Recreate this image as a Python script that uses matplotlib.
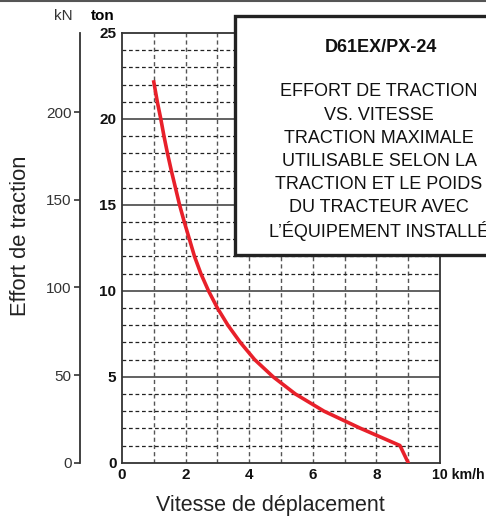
"""Drawbar pull vs speed chart, D61EX/PX-24."""
import matplotlib
matplotlib.use("Agg")
import matplotlib.pyplot as plt
from matplotlib.patches import Rectangle
from matplotlib.lines import Line2D

plt.rcParams["font.family"] = ["Liberation Sans", "DejaVu Sans"]

# curve: speed (km/h) vs pull (ton)
speed = [1.0, 1.11, 1.22, 1.32, 1.43, 1.55, 1.68, 1.81, 1.96, 2.12, 2.28, 2.48,
         2.72, 3.0, 3.33, 3.72, 4.17, 4.75, 5.45, 6.35, 7.5, 8.74, 9.0]
pull_ton = [22.15, 21.0, 20.0, 19.0, 18.0, 17.0, 16.0, 15.0, 14.0, 13.0, 12.0, 11.0,
            10.0, 9.0, 8.0, 7.0, 6.0, 5.0, 4.0, 3.0, 2.0, 1.0, 0.0]

ton_ticks = [0, 5, 10, 15, 20, 25]
kn_ticks = [0, 50, 100, 150, 200]
speed_ticks = [0, 2, 4, 6, 8]
KN_PER_TON = 9.81

box_lines = ["EFFORT DE TRACTION", "VS. VITESSE", "TRACTION MAXIMALE",
             "UTILISABLE SELON LA", "TRACTION ET LE POIDS",
             "DU TRACTEUR AVEC", "L\u2019ÉQUIPEMENT INSTALLÉ"]

W, H = 486, 517
fig = plt.figure(figsize=(W / 100, H / 100), dpi=100)
fig.patch.set_facecolor("white")


def fx(px):
    return px / W


def fy(py):
    return 1 - py / H


left, right, top, bottom = 122, 440, 33, 462.7
ax = fig.add_axes([fx(left), fy(bottom), fx(right - left), (bottom - top) / H])
ax.set_xlim(0, 10)
ax.set_ylim(0, 25)

# grid
for v in range(1, 10):
    ax.axvline(v, color="#555555", lw=1.0, ls=(0, (3, 2.2)), zorder=1)
for t in range(1, 25):
    if t % 5 == 0:
        ax.axhline(t, color="#555555", lw=1.3, zorder=1)
    else:
        ax.axhline(t, color="#222222", lw=0.9, ls=(0, (3, 2.2)), zorder=1)

ax.plot(speed, pull_ton, color="#E8202A", lw=2.6, zorder=3, solid_joinstyle="round")

for s in ax.spines.values():
    s.set_color("#333333")
    s.set_linewidth(1.3)

tick_fs = 11
ax.set_yticks(ton_ticks)
ax.set_yticklabels([str(t) for t in ton_ticks], fontweight="bold", fontsize=tick_fs)
ax.set_xticks(speed_ticks)
ax.set_xticklabels([str(s) for s in speed_ticks], fontweight="bold", fontsize=tick_fs)
ax.tick_params(axis="both", length=0, pad=4, colors="#111111")
ax.text(9.74, -0.72, "10 km/h", ha="left", va="center", fontweight="bold", fontsize=10.2,
        color="#111111", clip_on=False)
fig.text(fx(103), fy(16), "ton", ha="center", va="center", fontweight="bold", fontsize=tick_fs)

# kN axis
ax_kn = fig.add_axes([fx(80), fy(bottom), 0.001, (bottom - top) / H])
ax_kn.set_ylim(0, 25 * KN_PER_TON)
ax_kn.patch.set_visible(False)
for side in ["top", "right", "bottom"]:
    ax_kn.spines[side].set_visible(False)
ax_kn.spines["left"].set_color("#333333")
ax_kn.spines["left"].set_linewidth(1.3)
ax_kn.set_xticks([])
ax_kn.set_yticks(kn_ticks)
ax_kn.set_yticklabels([str(k) for k in kn_ticks], fontsize=tick_fs, color="#333333")
ax_kn.tick_params(axis="y", length=4, width=1.2, color="#333333", pad=2)
fig.text(fx(63), fy(16), "kN", ha="center", va="center", fontsize=tick_fs, color="#333333")

fig.text(fx(21), fy(236), "Effort de traction", rotation=90, ha="center", va="center",
         fontsize=15.8, color="#222222")
fig.text(fx(270), fy(506), "Vitesse de déplacement", ha="center", va="center",
         fontsize=15.5, color="#222222")

# title box
box = Rectangle((fx(235), fy(255)), fx(300), (255 - 16) / H, transform=fig.transFigure,
                facecolor="white", edgecolor="#222222", lw=2.4, zorder=5)
fig.add_artist(box)
fig.text(fx(381), fy(47.5), "D61EX/PX-24", ha="center", va="center", fontweight="bold",
         fontsize=13, color="#111111", zorder=6)
for i, line in enumerate(box_lines):
    fig.text(fx(379), fy(92 + i * 23.2), line, ha="center", va="center",
             fontsize=13, color="#111111", zorder=6)

fig.add_artist(Line2D([0, 1], [fy(0.8), fy(0.8)], transform=fig.transFigure,
                      color="#555555", lw=1.5))

fig.savefig("out.png", dpi=100)
